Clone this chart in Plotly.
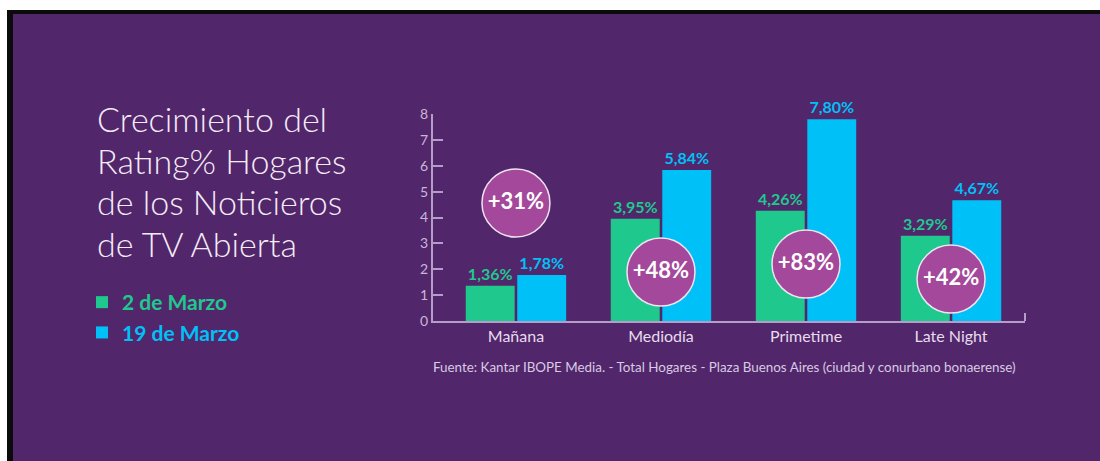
import plotly.graph_objects as go

# ---------------- data ----------------
categories = ["Mañana", "Mediodía", "Primetime", "Late Night"]
series_names = ["2 de Marzo", "19 de Marzo"]
values_mar2 = [1.36, 3.95, 4.26, 3.29]
values_mar19 = [1.78, 5.84, 7.80, 4.67]
y_ticks = [0, 1, 2, 3, 4, 5, 6, 7, 8]
title_lines = ["Crecimiento del", "Rating% Hogares", "de los Noticieros", "de TV Abierta"]
source_text = "Fuente: Kantar IBOPE Media. - Total Hogares - Plaza Buenos Aires (ciudad y conurbano bonaerense)"

growth_labels = [f"+{round((b / a - 1) * 100)}%" for a, b in zip(values_mar2, values_mar19)]

# ---------------- styling / placement ----------------
W, H = 1100, 461
ML, MR, MT, MB = 433, 75, 114, 140
PW, PH = W - ML - MR, H - MT - MB

def px_x(px):
    return (px - ML) / PW

def px_y(py):
    return (H - MB - py) / PH

BG = "#52266a"
GREEN = "#1fc98e"
BLUE = "#00c0f8"
BADGE = "#a4489b"
AXIS = "#b49ec8"
FONT = "Lato"
badge_y = [4.56, 1.89, 2.20, 1.62]  # vertical placement of the growth badges (data units)

fig = go.Figure()

fig.add_trace(go.Bar(
    x=categories, y=values_mar2, name=f"<span style='color:{GREEN}'><b>{series_names[0]}</b></span>",
    marker=dict(color=GREEN, line=dict(width=0)),
    texttemplate="%{y:.2f}%", textposition="outside", cliponaxis=False,
    textfont=dict(color=GREEN, size=16, family=FONT, weight="bold"),
))
fig.add_trace(go.Bar(
    x=categories, y=values_mar19, name=f"<span style='color:{BLUE}'><b>{series_names[1]}</b></span>",
    marker=dict(color=BLUE, line=dict(width=0)),
    texttemplate="%{y:.2f}%", textposition="outside", cliponaxis=False,
    textfont=dict(color=BLUE, size=16, family=FONT, weight="bold"),
))
fig.add_trace(go.Scatter(
    x=categories, y=badge_y, mode="markers+text", text=growth_labels,
    textposition="middle center", showlegend=False, cliponaxis=False,
    marker=dict(size=68, color=BADGE, line=dict(color="#efe4f2", width=1.5)),
    textfont=dict(color="white", size=22, family=FONT, weight="bold"),
))

shapes = [
    dict(type="rect", xref="paper", yref="paper", layer="below",
         x0=px_x(7), x1=px_x(W + 10), y0=px_y(H + 10), y1=px_y(10),
         fillcolor="#0b0b0b", line=dict(width=0)),
    dict(type="rect", xref="paper", yref="paper", layer="below",
         x0=px_x(13), x1=px_x(W + 10), y0=px_y(H + 10), y1=px_y(14),
         fillcolor=BG, line=dict(width=0)),
    # small upturn at the right end of the category axis
    dict(type="line", xref="paper", yref="paper",
         x0=1, x1=1, y0=0, y1=px_y(H - MB - 8),
         line=dict(color=AXIS, width=2)),
]

annotations = []
title_y_px = [118, 160, 201, 243]
for line, ypx in zip(title_lines, title_y_px):
    annotations.append(dict(
        text=line, xref="paper", yref="paper", x=px_x(95), y=px_y(ypx),
        xanchor="left", yanchor="middle", showarrow=False,
        font=dict(family=FONT, size=34, color="#f3ecf6", weight=300),
    ))
annotations.append(dict(
    text=source_text, xref="paper", yref="paper", x=px_x(431), y=px_y(367),
    xanchor="left", yanchor="middle", showarrow=False,
    font=dict(family=FONT, size=13.4, color="#d8cae4"),
))

fig.update_layout(
    width=W, height=H,
    margin=dict(l=ML, r=MR, t=MT, b=MB),
    paper_bgcolor="white", plot_bgcolor="rgba(0,0,0,0)",
    separators=",.",
    barmode="group", bargap=0.29, bargroupgap=0.05,
    shapes=shapes, annotations=annotations,
    font=dict(family=FONT),
    showlegend=True,
    legend=dict(
        x=px_x(82), y=px_y(282), xanchor="left", yanchor="top",
        bgcolor="rgba(0,0,0,0)", font=dict(size=21, family=FONT, color="white"),
        itemwidth=30,
    ),
    xaxis=dict(
        range=[-0.572, 3.51], showline=True, linecolor=AXIS, linewidth=2,
        showgrid=False, zeroline=False, ticks="",
        tickfont=dict(size=16, color="#e6dcee", family=FONT),
        fixedrange=True,
    ),
    yaxis=dict(
        range=[0, 8], tickvals=y_ticks, showline=True, linecolor=AXIS, linewidth=2,
        showgrid=False, zeroline=False, ticks="inside", ticklen=10, tickcolor=AXIS, tickwidth=2,
        tickfont=dict(size=14, color="#c9b6d8", family=FONT),
        fixedrange=True,
    ),
)

fig.write_html(
    "out.html",
    config={"displayModeBar": False},
    post_script="document.body.style.margin='0px';document.body.style.overflow='hidden';",
)
